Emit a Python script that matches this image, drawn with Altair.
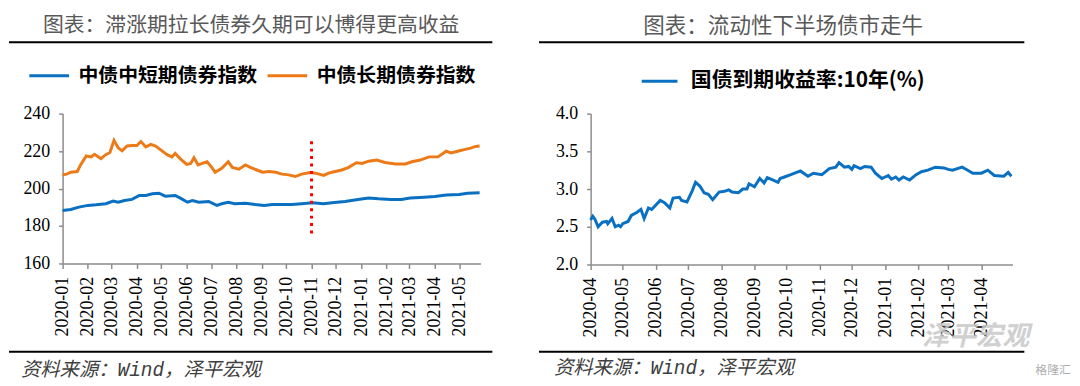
import altair as alt
import pandas as pd

# ---------------- data ----------------
left_title = "图表：滞涨期拉长债券久期可以博得更高收益"
right_title = "图表：流动性下半场债市走牛"
source_note = "资料来源：Wind，泽平宏观"
watermark_text = "泽平宏观"
logo_text = "格隆汇"
left_series = ["中债中短期债券指数", "中债长期债券指数"]
right_series = ["国债到期收益率:10年(%)"]

short_dates = ["2020-01-01", "2020-01-11", "2020-01-21", "2020-02-01", "2020-02-11", "2020-02-23",
               "2020-03-03", "2020-03-09", "2020-03-17", "2020-03-26", "2020-04-04", "2020-04-12",
               "2020-04-20", "2020-04-28", "2020-05-06", "2020-05-18", "2020-05-26", "2020-06-02",
               "2020-06-08", "2020-06-16", "2020-06-28", "2020-07-08", "2020-07-14", "2020-07-22",
               "2020-07-30", "2020-08-12", "2020-08-24", "2020-09-04", "2020-09-14", "2020-09-26",
               "2020-10-08", "2020-10-20", "2020-11-02", "2020-11-16", "2020-11-26", "2020-12-12",
               "2020-12-28", "2021-01-10", "2021-01-22", "2021-02-06", "2021-02-19", "2021-03-02",
               "2021-03-19", "2021-04-01", "2021-04-15", "2021-05-01", "2021-05-11", "2021-05-26"]
short_values = [188.3, 188.8, 190.1, 191.0, 191.3, 191.9,
                193.3, 192.7, 193.6, 194.2, 196.3, 196.3,
                197.2, 197.5, 195.9, 196.3, 194.5, 192.7,
                193.6, 192.7, 193.1, 191.0, 191.9, 192.7,
                191.9, 192.2, 191.5, 191.0, 191.5, 191.5,
                191.5, 191.9, 192.4, 191.9, 192.4, 193.1,
                194.2, 195.0, 194.5, 194.2, 194.2, 195.0,
                195.4, 195.8, 196.6, 196.8, 197.5, 197.7]

long_dates = ["2020-01-01", "2020-01-06", "2020-01-11", "2020-01-19", "2020-01-23", "2020-01-30",
              "2020-02-05", "2020-02-09", "2020-02-17", "2020-02-22", "2020-02-28", "2020-03-04",
              "2020-03-09", "2020-03-14", "2020-03-20", "2020-03-26", "2020-04-01", "2020-04-06",
              "2020-04-12", "2020-04-18", "2020-04-24", "2020-05-01", "2020-05-08", "2020-05-14",
              "2020-05-18", "2020-05-24", "2020-06-01", "2020-06-06", "2020-06-10", "2020-06-15",
              "2020-06-20", "2020-06-26", "2020-07-01", "2020-07-06", "2020-07-14", "2020-07-22",
              "2020-07-27", "2020-08-04", "2020-08-12", "2020-08-18", "2020-08-26", "2020-09-02",
              "2020-09-10", "2020-09-18", "2020-09-26", "2020-10-04", "2020-10-12", "2020-10-20",
              "2020-10-30", "2020-11-06", "2020-11-16", "2020-11-22", "2020-11-30", "2020-12-08",
              "2020-12-16", "2020-12-26", "2021-01-02", "2021-01-10", "2021-01-20", "2021-01-30",
              "2021-02-12", "2021-02-24", "2021-03-04", "2021-03-14", "2021-03-25", "2021-04-05",
              "2021-04-15", "2021-04-21", "2021-04-29", "2021-05-07", "2021-05-15", "2021-05-21",
              "2021-05-26"]
long_values = [207.3, 207.7, 208.7, 209.1, 212.6, 217.4,
               216.9, 218.3, 216.0, 217.8, 219.2, 225.7,
               221.8, 220.1, 222.7, 223.0, 223.0, 225.1,
               222.2, 223.6, 222.7, 220.4, 218.1, 216.9,
               218.7, 216.0, 212.9, 213.4, 216.4, 212.6,
               213.4, 214.3, 211.7, 208.7, 210.8, 214.3,
               211.3, 210.3, 212.6, 211.3, 209.9, 208.7,
               209.1, 208.7, 207.7, 207.3, 206.4, 207.7,
               208.5, 208.2, 207.0, 208.2, 209.1, 209.9,
               211.2, 213.8, 213.4, 214.6, 215.2, 213.9,
               213.1, 213.1, 214.3, 215.2, 216.9, 216.9,
               219.9, 219.0, 219.9, 220.8, 221.6, 222.5,
               222.7]

yield_dates = ["2020-04-01", "2020-04-03", "2020-04-05", "2020-04-08", "2020-04-12", "2020-04-16",
               "2020-04-17", "2020-04-21", "2020-04-24", "2020-04-27", "2020-04-29", "2020-05-01",
               "2020-05-06", "2020-05-09", "2020-05-14", "2020-05-18", "2020-05-21", "2020-05-25",
               "2020-05-28", "2020-06-05", "2020-06-09", "2020-06-14", "2020-06-17", "2020-06-23",
               "2020-06-25", "2020-06-30", "2020-07-05", "2020-07-08", "2020-07-12", "2020-07-16",
               "2020-07-20", "2020-07-24", "2020-07-30", "2020-08-04", "2020-08-08", "2020-08-11",
               "2020-08-17", "2020-08-21", "2020-08-25", "2020-08-27", "2020-09-01", "2020-09-06",
               "2020-09-10", "2020-09-13", "2020-09-18", "2020-09-23", "2020-09-25", "2020-09-29",
               "2020-10-05", "2020-10-14", "2020-10-21", "2020-10-26", "2020-11-03", "2020-11-10",
               "2020-11-16", "2020-11-19", "2020-11-24", "2020-11-28", "2020-12-01", "2020-12-03",
               "2020-12-09", "2020-12-13", "2020-12-19", "2020-12-23", "2020-12-29", "2021-01-04",
               "2021-01-07", "2021-01-11", "2021-01-14", "2021-01-18", "2021-01-24", "2021-01-30",
               "2021-02-04", "2021-02-10", "2021-02-17", "2021-02-25", "2021-03-01", "2021-03-05",
               "2021-03-14", "2021-03-18", "2021-03-24", "2021-04-01", "2021-04-07", "2021-04-13",
               "2021-04-22", "2021-04-26", "2021-04-29"]
yield_values = [2.59, 2.64, 2.60, 2.50, 2.56, 2.57,
                2.54, 2.61, 2.50, 2.52, 2.50, 2.54,
                2.57, 2.65, 2.69, 2.73, 2.61, 2.75,
                2.73, 2.85, 2.82, 2.75, 2.88, 2.89,
                2.85, 2.83, 2.98, 3.09, 3.04, 2.95,
                2.93, 2.86, 2.96, 2.97, 2.99, 2.96,
                2.95, 3.00, 3.00, 3.07, 3.03, 3.14,
                3.08, 3.15, 3.12, 3.09, 3.14, 3.16,
                3.19, 3.24, 3.17, 3.21, 3.19, 3.27,
                3.29, 3.35, 3.29, 3.30, 3.26, 3.31,
                3.27, 3.30, 3.29, 3.21, 3.14, 3.18,
                3.13, 3.16, 3.12, 3.16, 3.12, 3.19,
                3.23, 3.25, 3.29, 3.28, 3.26, 3.25,
                3.29, 3.26, 3.21, 3.21, 3.25, 3.18,
                3.17, 3.22, 3.17]

marker_date = ["2020-11-01"]
marker_low = [176]
marker_high = [227]

left_y_ticks = [160, 180, 200, 220, 240]
right_y_ticks = [2.0, 2.5, 3.0, 3.5, 4.0]

# ---------------- style ----------------
BLUE = "#0A70C2"
ORANGE = "#EC7A17"
AXIS_GRAY = "#8C8C8C"
CJK = "Noto Sans CJK SC"
SERIF = "Liberation Serif"


def dt(y, m, d):
    return alt.DateTime(year=y, month=m, date=d, utc=True)


def x_enc(domain):
    return alt.X(
        "date:T",
        scale=alt.Scale(type="utc", domain=domain, nice=False),
        axis=alt.Axis(title=None, format="%Y-%m", labelAngle=270,
                      tickCount={"interval": "month", "step": 1},
                      labelOverlap=False, labelFlush=False,
                      labelFont=SERIF, labelFontSize=18, labelColor="#000",
                      domainColor=AXIS_GRAY, domainWidth=1.5,
                      tickColor=AXIS_GRAY, tickWidth=1.5, tickSize=5,
                      labelPadding=8, grid=False),
    )


def y_enc(field, domain, ticks, fmt):
    return alt.Y(
        field,
        scale=alt.Scale(domain=domain, nice=False, zero=False),
        axis=alt.Axis(title=None, values=ticks, format=fmt, labelOverlap=False,
                      labelFlush=False,
                      labelFont=SERIF, labelFontSize=18, labelColor="#000",
                      domainColor=AXIS_GRAY, domainWidth=1.5,
                      tickColor=AXIS_GRAY, tickWidth=1.5, tickSize=4,
                      labelPadding=9, grid=False),
    )


def decorations(title, title_x, title_size, top_y, rule_x0, rule_x1, rule_top, rule_bottom,
                note_x, note_y, pin_y):
    one = pd.DataFrame({"label": [title]})
    note = pd.DataFrame({"label": [source_note]})
    pin = alt.Chart(one).mark_rule(color="white", strokeWidth=0.5).encode(
        x=alt.value(rule_x0), x2=alt.value(rule_x0 + 10), y=alt.value(pin_y))
    ttl = alt.Chart(one).mark_text(font=CJK, fontSize=title_size, color="#595959",
                                   align="center", baseline="middle").encode(
        x=alt.value(title_x), y=alt.value(top_y), text="label:N")
    r1 = alt.Chart(one).mark_rule(color="#000", strokeWidth=2).encode(
        x=alt.value(rule_x0), x2=alt.value(rule_x1), y=alt.value(rule_top))
    r2 = alt.Chart(one).mark_rule(color="#000", strokeWidth=2).encode(
        x=alt.value(rule_x0), x2=alt.value(rule_x1), y=alt.value(rule_bottom))
    src = alt.Chart(note).mark_text(font="Liberation Mono, Noto Sans CJK SC", fontSize=19.5,
                                    fontStyle="italic", color="#404040",
                                    align="left", baseline="middle").encode(
        x=alt.value(note_x), y=alt.value(note_y), text="label:N")
    return [pin, ttl, r1, r2, src]


# ---------------- left panel ----------------
left_df = pd.concat([
    pd.DataFrame({"date": short_dates, "value": short_values, "series": left_series[0]}),
    pd.DataFrame({"date": long_dates, "value": long_values, "series": left_series[1]}),
], ignore_index=True)
left_dom = [dt(2020, 1, 1), dt(2021, 5, 27)]

left_lines = alt.Chart(left_df).mark_line(strokeWidth=3).encode(
    x=x_enc(left_dom),
    y=y_enc("value:Q", [160, 240], left_y_ticks, "d"),
    color=alt.Color("series:N", sort=left_series,
                    scale=alt.Scale(domain=left_series, range=[BLUE, ORANGE]),
                    legend=alt.Legend(title=None, orient="none", legendX=-35, legendY=-60,
                                      direction="horizontal", symbolType="stroke",
                                      symbolSize=1600, symbolStrokeWidth=3,
                                      labelFont=CJK, labelFontSize=20, labelFontWeight="bold",
                                      labelColor="#000", labelOffset=8, columnPadding=4,
                                      padding=0, labelLimit=500)),
)

marker_df = pd.DataFrame({"date": marker_date, "low": marker_low, "high": marker_high})
marker = alt.Chart(marker_df).mark_rule(color="#FF0000", strokeWidth=3,
                                        strokeDash=[3, 4.5]).encode(
    x=x_enc(left_dom), y=y_enc("low:Q", [160, 240], left_y_ticks, "d"), y2="high:Q")

left = alt.layer(
    left_lines, marker,
    *decorations(left_title, 190, 21, -88, -54, 433, -72, 240, -42, 258, -104),
).properties(width=421, height=151)

# ---------------- right panel ----------------
right_df = pd.DataFrame({"date": yield_dates, "value": yield_values, "series": right_series[0]})
right_dom = [dt(2020, 4, 1), dt(2021, 4, 30)]

right_line = alt.Chart(right_df).mark_line(strokeWidth=3).encode(
    x=x_enc(right_dom),
    y=y_enc("value:Q", [2.0, 4.0], right_y_ticks, ".1f"),
    color=alt.Color("series:N",
                    scale=alt.Scale(domain=right_series, range=[BLUE]),
                    legend=alt.Legend(title=None, orient="none", legendX=50, legendY=-52,
                                      direction="horizontal", symbolType="stroke",
                                      symbolSize=1296, symbolStrokeWidth=3,
                                      labelFont=CJK, labelFontSize=21, labelFontWeight="bold",
                                      labelColor="#000", labelOffset=12,
                                      padding=0, labelLimit=500)),
)

wm = alt.Chart(pd.DataFrame({"label": [watermark_text]})).mark_text(
    font=CJK, fontSize=27, fontWeight="bold", fontStyle="italic", color="#C8C8C8",
    opacity=0.85, align="center", baseline="middle").encode(
    x=alt.value(388), y=alt.value(225), text="label:N")
logo = alt.Chart(pd.DataFrame({"label": [logo_text]})).mark_text(
    font=CJK, fontSize=12, color="#B0B0B0", align="center", baseline="middle").encode(
    x=alt.value(466), y=alt.value(258), text="label:N")

right = alt.layer(
    right_line,
    *decorations(right_title, 194, 21.7, -88, -52, 437, -72, 240, -37, 256, -104),
    wm, logo,
).properties(width=425, height=152)

chart = alt.hconcat(left, right, spacing=45).resolve_scale(
    color="independent", x="independent", y="independent"
).resolve_legend(color="independent").properties(
    padding=0, background="white"
).configure_view(stroke=None)

chart.save("out.html", embed_options={"renderer": "svg", "actions": False})
